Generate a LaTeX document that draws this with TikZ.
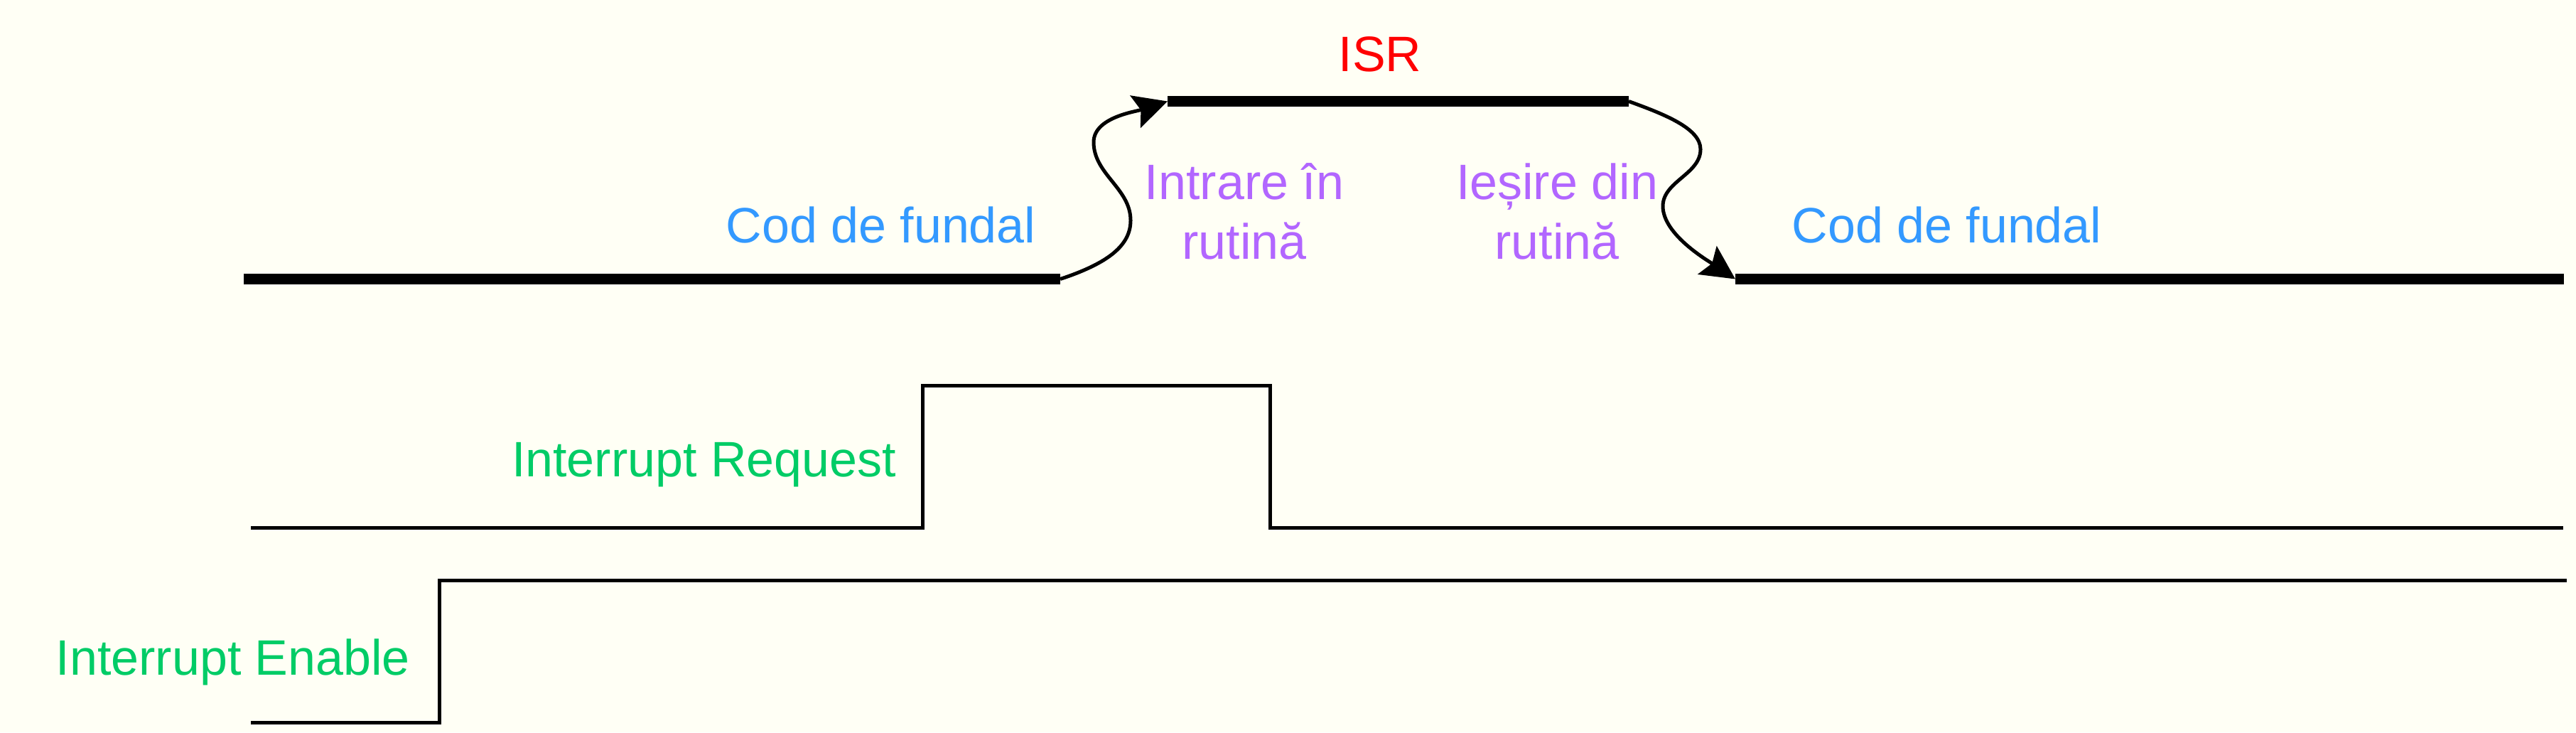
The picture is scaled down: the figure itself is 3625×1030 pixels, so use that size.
\documentclass[tikz,border=0pt]{standalone}
\usepackage{fontspec}
\setmainfont{Liberation Sans}
\usetikzlibrary{arrows.meta}
\definecolor{bgc}{RGB}{255,255,245}
\definecolor{codblue}{RGB}{51,153,255}
\definecolor{isrred}{RGB}{255,0,0}
\definecolor{transviolet}{RGB}{178,102,255}
\definecolor{siggreen}{RGB}{0,204,102}
\begin{document}
\begin{tikzpicture}[x=0.2pt,y=-0.2pt,
  lbl/.style={inner sep=0pt, font=\fontsize{14pt}{16.8pt}\selectfont},
  codeline/.style={line width=3pt, line cap=butt},
  sigline/.style={line width=1pt, line join=miter},
  transarrow/.style={line width=1pt, -{Stealth[length=9.5pt,width=9.5pt,inset=1.6pt]}}]
\fill[bgc] (0,0) rectangle (3625,1030);
\useasboundingbox (0,0) rectangle (3625,1030);

% code execution levels
\coordinate (bgLa) at (343,392.5);
\coordinate (bgLb) at (1492,392.5);
\coordinate (isrA) at (1643,142.5);
\coordinate (isrB) at (2292,142.5);
\coordinate (bgRa) at (2442,392.5);
\coordinate (bgRb) at (3608,392.5);
\draw[codeline] (bgLa) -- (bgLb);
\draw[codeline] (isrA) -- (isrB);
\draw[codeline] (bgRa) -- (bgRb);

% transitions
\draw[transarrow] (bgLb) .. controls (1560,370) and (1591,345) .. (1591,310)
  .. controls (1591,265) and (1539,245) .. (1539,200)
  .. controls (1539,165) and (1598,157) .. (isrA);
\draw[transarrow] (isrB) .. controls (2340,160) and (2393,180) .. (2393,210)
  .. controls (2393,245) and (2340,255) .. (2340,290)
  .. controls (2340,330) and (2404,367) .. (bgRa);

% labels
\node[lbl, text=codblue, anchor=base] (codL) at (1239.5,341) {Cod de fundal};
\node[lbl, text=codblue, anchor=base] (codR) at (2739.5,341) {Cod de fundal};
\node[lbl, text=isrred, anchor=base] (isr) at (1942,100) {ISR};
\node[lbl, text=transviolet, anchor=base, align=center] (intr) at (1751,364) {Intrare în\\rutină};
\node[lbl, text=transviolet, anchor=base, align=center] (ies) at (2191,364) {Ieșire din\\rutină};

% signals
\coordinate (irA) at (353,742);
\coordinate (irUp) at (1298,742);
\coordinate (irHi) at (1298,542);
\coordinate (irDn) at (1787,542);
\coordinate (irLo) at (1787,742);
\coordinate (irB) at (3607,742);
\draw[sigline] (irA) -- (irUp) -- (irHi) -- (irDn) -- (irLo) -- (irB);

\coordinate (ieA) at (353,1016);
\coordinate (ieUp) at (618,1016);
\coordinate (ieHi) at (618,816);
\coordinate (ieB) at (3612,816);
\draw[sigline] (ieA) -- (ieUp) -- (ieHi) -- (ieB);

\node[lbl, text=siggreen, anchor=base east] (irq) at (1262,670) {Interrupt Request};
\node[lbl, text=siggreen, anchor=base east] (ien) at (578,949) {Interrupt Enable};
\end{tikzpicture}
\end{document}
